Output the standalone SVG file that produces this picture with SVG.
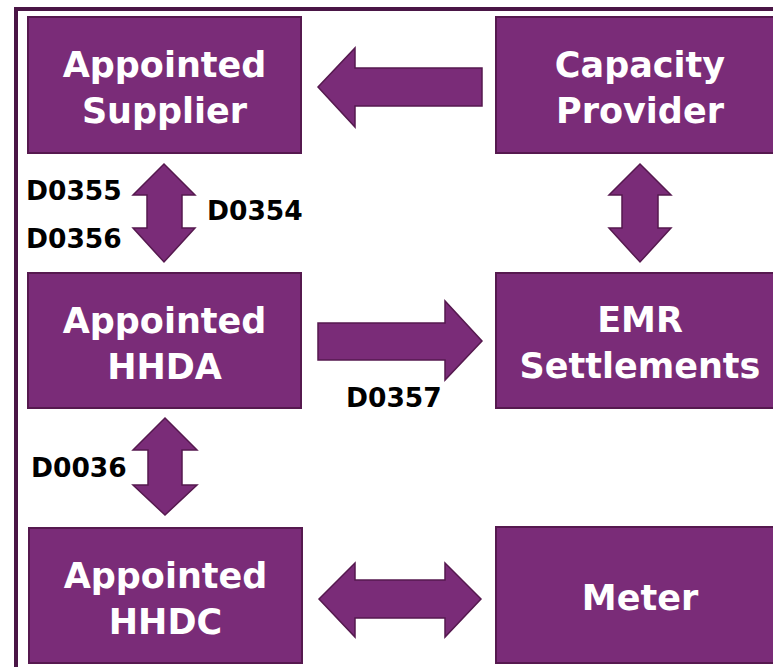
<svg xmlns="http://www.w3.org/2000/svg" width="773" height="667" viewBox="0 0 773 667">
<style>
.box{fill:#7a2c78;stroke:#56194f;stroke-width:2}
.arr{fill:#7a2c78;stroke:#56194f;stroke-width:1.5;stroke-linejoin:miter}
.nt{font-family:"DejaVu Sans",Verdana,sans-serif;font-weight:bold;font-size:35px;fill:#ffffff;text-anchor:middle}
.lb{font-family:"DejaVu Sans",Verdana,sans-serif;font-weight:bold;font-size:26.5px;fill:#000000}
</style>
<rect x="0" y="0" width="773" height="667" fill="#ffffff"/>
<g id="frame">
<line x1="16" y1="9" x2="773" y2="9" stroke="#4a1646" stroke-width="4"/>
<line x1="16" y1="7" x2="16" y2="667" stroke="#4a1646" stroke-width="4"/>
</g>
<g id="connectors">
<polygon class="arr" points="318,87 355,48 355,68 482,68 482,106 355,106 355,127"/>
<polygon class="arr" points="164,164 195,195 182,195 182,228 195,228 164,262 133,228 147,228 147,195 133,195"/>
<polygon class="arr" points="640,164 671,195 658,195 658,228 671,228 640,262 609,228 622,228 622,195 609,195"/>
<polygon class="arr" points="318,323 445,323 445,301 482,341 445,380 445,360 318,360"/>
<polygon class="arr" points="165,418 197,450 182,450 182,485 197,485 165,515 133,485 148,485 148,450 133,450"/>
<polygon class="arr" points="319,599 355,563 355,580 445,580 445,563 481,599 445,637 445,618 355,618 355,637"/>
<text class="lb" x="26" y="200">D0355</text>
<text class="lb" x="26" y="248">D0356</text>
<text class="lb" x="207" y="220">D0354</text>
<text class="lb" x="346" y="407">D0357</text>
<text class="lb" x="31" y="477">D0036</text>
</g>
<g id="appointed-supplier">
<rect class="box" x="28" y="17" width="273" height="136"/>
<text class="nt" x="164.5" y="77">Appointed</text>
<text class="nt" x="164.5" y="123">Supplier</text>
</g>
<g id="capacity-provider">
<rect class="box" x="496" y="17" width="290" height="136"/>
<text class="nt" x="640" y="77">Capacity</text>
<text class="nt" x="640" y="123">Provider</text>
</g>
<g id="appointed-hhda">
<rect class="box" x="28" y="273" width="273" height="135"/>
<text class="nt" x="164.5" y="333">Appointed</text>
<text class="nt" x="164.5" y="379">HHDA</text>
</g>
<g id="emr-settlements">
<rect class="box" x="496" y="273" width="290" height="135"/>
<text class="nt" x="640" y="332">EMR</text>
<text class="nt" x="640" y="378">Settlements</text>
</g>
<g id="appointed-hhdc">
<rect class="box" x="29" y="528" width="273" height="135"/>
<text class="nt" x="165.5" y="588">Appointed</text>
<text class="nt" x="165.5" y="634">HHDC</text>
</g>
<g id="meter">
<rect class="box" x="496" y="527" width="290" height="136"/>
<text class="nt" x="640" y="610">Meter</text>
</g>
</svg>
